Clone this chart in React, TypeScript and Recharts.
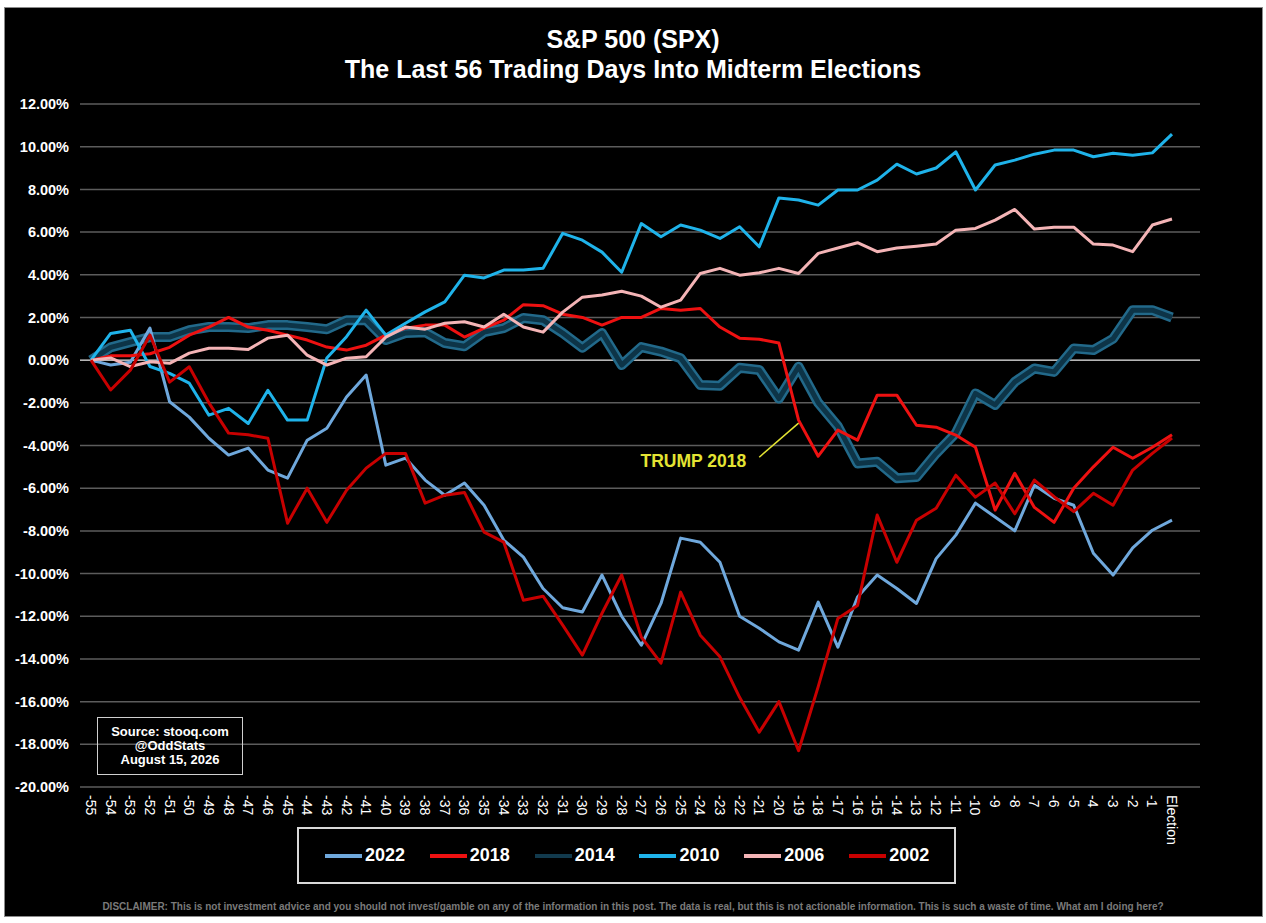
import React from 'react';
import { LineChart, Line, XAxis, YAxis, CartesianGrid, ReferenceLine, ReferenceDot } from 'recharts';

const days = ['-55','-54','-53','-52','-51','-50','-49','-48','-47','-46','-45','-44','-43','-42','-41','-40','-39','-38','-37','-36','-35','-34','-33','-32','-31','-30','-29','-28','-27','-26','-25','-24','-23','-22','-21','-20','-19','-18','-17','-16','-15','-14','-13','-12','-11','-10','-9','-8','-7','-6','-5','-4','-3','-2','-1','Election'];

const s2022 = [0, -0.23, -0.1, 1.5, -1.95, -2.67, -3.66, -4.45, -4.12, -5.15, -5.53, -3.75, -3.19, -1.73, -0.7, -4.92, -4.59, -5.62, -6.33, -5.76, -6.8, -8.43, -9.23, -10.7, -11.6, -11.8, -10.07, -12.0, -13.36, -11.4, -8.34, -8.53, -9.47, -12.0, -12.56, -13.2, -13.59, -11.34, -13.45, -11.1, -10.07, -10.7, -11.4, -9.3, -8.2, -6.7, -7.35, -8.0, -5.86, -6.47, -6.8, -9.05, -10.07, -8.8, -7.97, -7.5];
const s2018 = [0, 0.2, 0.2, 0.3, 0.6, 1.17, 1.55, 2.0, 1.55, 1.4, 1.17, 0.94, 0.61, 0.47, 0.7, 1.17, 1.5, 1.64, 1.64, 1.08, 1.5, 1.87, 2.6, 2.55, 2.15, 2.0, 1.64, 2.0, 2.0, 2.42, 2.34, 2.42, 1.55, 1.03, 0.98, 0.8, -2.81, -4.5, -3.28, -3.75, -1.64, -1.64, -3.05, -3.14, -3.51, -4.08, -7.03, -5.3, -6.9, -7.6, -6.0, -5.0, -4.08, -4.6, -4.08, -3.5];
const s2014 = [0, 0.6, 0.84, 1.08, 1.08, 1.4, 1.55, 1.55, 1.5, 1.64, 1.64, 1.55, 1.45, 1.87, 1.87, 0.94, 1.27, 1.31, 0.8, 0.65, 1.31, 1.5, 1.97, 1.87, 1.27, 0.58, 1.27, -0.23, 0.61, 0.4, 0.09, -1.17, -1.2, -0.36, -0.46, -1.8, -0.31, -2.0, -3.1, -4.84, -4.76, -5.53, -5.48, -4.37, -3.42, -1.56, -2.1, -1.02, -0.39, -0.55, 0.55, 0.47, 1.0, 2.34, 2.34, 2.0];
const s2010 = [0, 1.25, 1.4, -0.3, -0.62, -1.08, -2.58, -2.26, -2.97, -1.41, -2.81, -2.81, 0.1, 1.1, 2.34, 1.17, 1.73, 2.26, 2.73, 3.98, 3.85, 4.22, 4.22, 4.3, 5.94, 5.62, 5.06, 4.12, 6.4, 5.78, 6.33, 6.09, 5.7, 6.25, 5.31, 7.6, 7.5, 7.26, 7.97, 7.97, 8.43, 9.18, 8.72, 9.0, 9.76, 7.97, 9.14, 9.37, 9.65, 9.84, 9.84, 9.53, 9.69, 9.6, 9.71, 10.59];
const s2006 = [0, 0.1, -0.3, -0.08, -0.15, 0.33, 0.56, 0.56, 0.5, 1.03, 1.17, 0.23, -0.23, 0.09, 0.16, 1.08, 1.55, 1.45, 1.73, 1.8, 1.55, 2.15, 1.55, 1.31, 2.25, 2.95, 3.05, 3.23, 3.0, 2.48, 2.81, 4.06, 4.3, 3.98, 4.09, 4.3, 4.06, 5.0, 5.25, 5.5, 5.08, 5.25, 5.34, 5.44, 6.09, 6.17, 6.56, 7.06, 6.14, 6.23, 6.23, 5.44, 5.39, 5.08, 6.33, 6.61];
const s2002 = [0, -1.4, -0.47, 1.17, -1.03, -0.31, -2.0, -3.42, -3.5, -3.66, -7.64, -6.0, -7.6, -6.1, -5.06, -4.37, -4.37, -6.7, -6.33, -6.2, -8.06, -8.53, -11.25, -11.06, -12.42, -13.82, -11.86, -10.07, -12.98, -14.2, -10.87, -12.89, -13.9, -15.8, -17.43, -16.0, -18.3, -15.3, -12.1, -11.5, -7.26, -9.47, -7.5, -6.94, -5.39, -6.42, -5.76, -7.2, -5.62, -6.4, -7.1, -6.24, -6.8, -5.15, -4.37, -3.65];

const yTicks = [12, 10, 8, 6, 4, 2, 0, -2, -4, -6, -8, -10, -12, -14, -16, -18, -20];

const series = [
  { key: 'y2022', name: '2022', color: '#6fa8dc' },
  { key: 'y2018', name: '2018', color: '#ee1111' },
  { key: 'y2014', name: '2014', color: '#123a4d' },
  { key: 'y2010', name: '2010', color: '#1fb3ea' },
  { key: 'y2006', name: '2006', color: '#f4b4b6' },
  { key: 'y2002', name: '2002', color: '#c80000' },
];

const data = days.map((d, i) => ({
  day: d,
  y2022: s2022[i],
  y2018: s2018[i],
  y2014: s2014[i],
  y2010: s2010[i],
  y2006: s2006[i],
  y2002: s2002[i],
}));

const FONT = '"Liberation Sans", Arial, sans-serif';

const XTick = (props: any) => {
  const { x, y, payload } = props;
  return (
    <text
      x={x}
      y={y}
      transform={`rotate(90 ${x} ${y})`}
      textAnchor="start"
      dominantBaseline="central"
      fill="#ffffff"
      fontSize={14}
      fontFamily={FONT}
    >
      {payload.value}
    </text>
  );
};

export default function App() {
  return (
    <div style={{ position: 'absolute', left: 0, top: 0, width: 1266, height: 923, background: '#ffffff', fontFamily: FONT, overflow: 'hidden' }}>
      <div style={{ position: 'absolute', left: 4, top: 7, width: 1257, height: 908, background: '#000000', border: '1px solid #8a8a8a' }} />
      <div style={{ position: 'absolute', left: 0, top: 24, width: 1266, textAlign: 'center', color: '#fff', fontWeight: 700, fontSize: 25, lineHeight: '30px' }}>
        <div>S&amp;P 500 (SPX)</div>
        <div>The Last 56 Trading Days Into Midterm Elections</div>
      </div>
      <div style={{ position: 'absolute', left: 0, top: 0 }}>
        <LineChart width={1266} height={923} data={data} margin={{ top: 104, right: 66, bottom: 76, left: 5 }}>
          <CartesianGrid horizontal vertical={false} stroke="#5c5c5c" strokeWidth={1.5} />
          <XAxis
            dataKey="day"
            interval={0}
            tick={<XTick />}
            tickLine={false}
            axisLine={false}
            tickSize={0}
            tickMargin={8}
            height={60}
            padding={{ left: 11, right: 28 }}
          />
          <YAxis
            domain={[-20, 12]}
            ticks={yTicks}
            interval={0}
            width={75}
            tickLine={false}
            axisLine={false}
            tickSize={0}
            tickMargin={11}
            tickFormatter={(v: number) => `${v.toFixed(2)}%`}
            tick={{ fill: '#ffffff', fontSize: 14.5, fontWeight: 700, fontFamily: FONT }}
          />
          <ReferenceLine y={0} stroke="#b5b5b5" strokeWidth={1.5} />
          <Line type="linear" dataKey="y2014" stroke="#22698a" strokeWidth={10} dot={false} activeDot={false} isAnimationActive={false} strokeLinejoin="round" />
          <Line type="linear" dataKey="y2014" stroke="#0d3447" strokeWidth={5} dot={false} activeDot={false} isAnimationActive={false} strokeLinejoin="round" />
          <Line type="linear" dataKey="y2022" stroke="#6fa8dc" strokeWidth={3} dot={false} activeDot={false} isAnimationActive={false} strokeLinejoin="round" />
          <Line type="linear" dataKey="y2018" stroke="#ee1111" strokeWidth={3} dot={false} activeDot={false} isAnimationActive={false} strokeLinejoin="round" />
          <Line type="linear" dataKey="y2010" stroke="#1fb3ea" strokeWidth={3} dot={false} activeDot={false} isAnimationActive={false} strokeLinejoin="round" />
          <Line type="linear" dataKey="y2006" stroke="#f4b4b6" strokeWidth={3} dot={false} activeDot={false} isAnimationActive={false} strokeLinejoin="round" />
          <Line type="linear" dataKey="y2002" stroke="#c80000" strokeWidth={3} dot={false} activeDot={false} isAnimationActive={false} strokeLinejoin="round" />
          <ReferenceLine
            segment={[{ x: '-19', y: -2.95 }, { x: '-21', y: -4.55 }]}
            stroke="#e4e433"
            strokeWidth={1.5}
          />
          <ReferenceDot
            x="-21"
            y={-4.73}
            r={1}
            fill="none"
            stroke="none"
            label={{ value: 'TRUMP 2018', position: 'left', offset: 12, fill: '#e4e433', fontSize: 17.5, fontWeight: 700, fontFamily: FONT }}
          />
        </LineChart>
      </div>
      <div style={{ position: 'absolute', left: 97, top: 717, width: 144, height: 56, border: '1px solid #d0d0d0', color: '#fff', fontWeight: 700, fontSize: 13, lineHeight: '14px', textAlign: 'center', display: 'flex', flexDirection: 'column', justifyContent: 'center' }}>
        <div>Source: stooq.com</div>
        <div>@OddStats</div>
        <div>August 15, 2026</div>
      </div>
      <div style={{ position: 'absolute', left: 297, top: 827, width: 629, height: 53, border: '2px solid #d9d9d9', display: 'flex', alignItems: 'center', paddingLeft: 26, boxSizing: 'content-box' }}>
        {series.map((s) => (
          <div key={s.key} style={{ display: 'flex', alignItems: 'center', width: 105 }}>
            <div style={{ width: 37, height: 4, background: s.color, marginRight: 3 }} />
            <span style={{ color: '#fff', fontWeight: 700, fontSize: 18 }}>{s.name}</span>
          </div>
        ))}
      </div>
      <div style={{ position: 'absolute', left: 0, top: 901, width: 1266, textAlign: 'center', color: '#7a7a7a', fontWeight: 700, fontSize: 10, lineHeight: '12px' }}>
        DISCLAIMER: This is not investment advice and you should not invest/gamble on any of the information in this post. The data is real, but this is not actionable information. This is such a waste of time. What am I doing here?
      </div>
    </div>
  );
}
